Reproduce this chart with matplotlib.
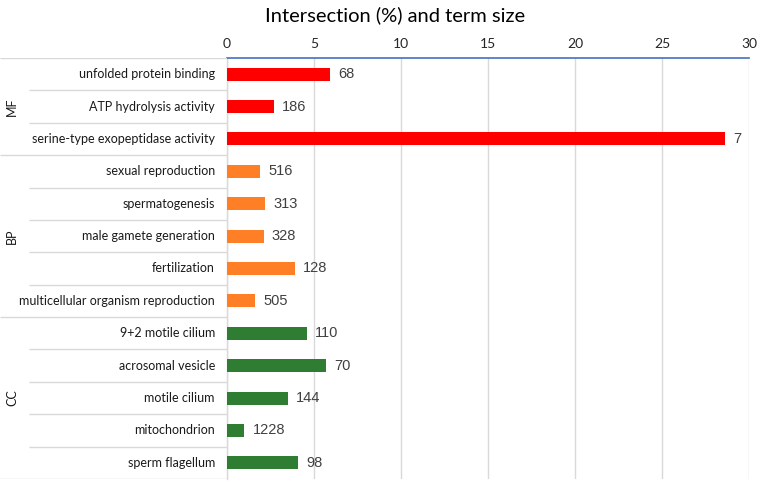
import matplotlib
matplotlib.use('Agg')
import matplotlib.pyplot as plt

# data
groups = ['MF', 'BP', 'CC']
terms = [
    'unfolded protein binding', 'ATP hydrolysis activity', 'serine-type exopeptidase activity',
    'sexual reproduction', 'spermatogenesis', 'male gamete generation', 'fertilization',
    'multicellular organism reproduction',
    '9+2 motile cilium', 'acrosomal vesicle', 'motile cilium', 'mitochondrion', 'sperm flagellum',
]
term_group = ['MF'] * 3 + ['BP'] * 5 + ['CC'] * 5
intersection = [5.9, 2.7, 28.6, 1.9, 2.2, 2.1, 3.9, 1.6, 4.6, 5.7, 3.5, 1.0, 4.1]
term_size = [68, 186, 7, 516, 313, 328, 128, 505, 110, 70, 144, 1228, 98]

COLORS = {'MF': '#FF0000', 'BP': '#FF7F27', 'CC': '#2E7D32'}
LINE = '#D9D9D9'

W, H = 774, 484
fig = plt.figure(figsize=(W / 100, H / 100), dpi=100)
left, right, top, bottom = 227 / W, 749 / W, 1 - 58 / H, 1 - 479 / H

ax = fig.add_axes([left, bottom, right - left, top - bottom])
n = len(terms)
ys = list(range(n))
colors = [COLORS[g] for g in term_group]
bars = ax.barh(ys, intersection, height=0.4, color=colors, zorder=3)
for b, s in zip(bars, term_size):
    ax.annotate(str(s), (b.get_width(), b.get_y() + b.get_height() / 2),
                xytext=(6, 0), textcoords='offset points', va='center', ha='left',
                fontsize=10.5, color='#404040', family='Liberation Sans')

ax.set_xlim(0, 30)
ax.set_ylim(n - 0.5, -0.5)
ax.set_xticks(range(0, 31, 5))
ax.xaxis.tick_top()
ax.tick_params(axis='x', length=0, pad=6, labelsize=10, labelcolor='#262626')
ax.set_yticks([])
ax.grid(axis='x', color=LINE, linewidth=1, zorder=0)
for s in ['right', 'bottom']:
    ax.spines[s].set_visible(False)
ax.spines['top'].set_color('#4472C4')
ax.spines['top'].set_linewidth(1.2)
ax.spines['left'].set_color(LINE)
ax.spines['left'].set_linewidth(1)
for lbl in ax.get_xticklabels():
    lbl.set_family('Lato')

# left table with term names and group labels
tax = fig.add_axes([0, bottom, left, top - bottom])
tax.set_xlim(0, 1)
tax.set_ylim(n - 0.5, -0.5)
tax.axis('off')
inner_x = 29 / 227
tax.hlines(-0.5, 0, 1, color=LINE, linewidth=1)
for i, t in enumerate(terms):
    tax.text(215 / 227, i, t, ha='right', va='center', fontsize=9, family='Lato', color='#1a1a1a')
    if i < n - 1:
        same = term_group[i] == term_group[i + 1]
        tax.hlines(i + 0.5, inner_x if same else 0, 1, color=LINE, linewidth=1)
tax.hlines(n - 0.5, 0, 1, color=LINE, linewidth=1)
for g in groups:
    idx = [i for i, tg in enumerate(term_group) if tg == g]
    tax.text(12 / 227, (idx[0] + idx[-1]) / 2, g, rotation=90, ha='center', va='center',
             fontsize=9, family='Lato', color='#1a1a1a')

fig.text(395 / W, 1 - 15 / H, 'Intersection (%) and term size', ha='center', va='center',
         fontsize=14.5, family='Lato', color='#000000')

fig.savefig('out.png', dpi=100, facecolor='white')
